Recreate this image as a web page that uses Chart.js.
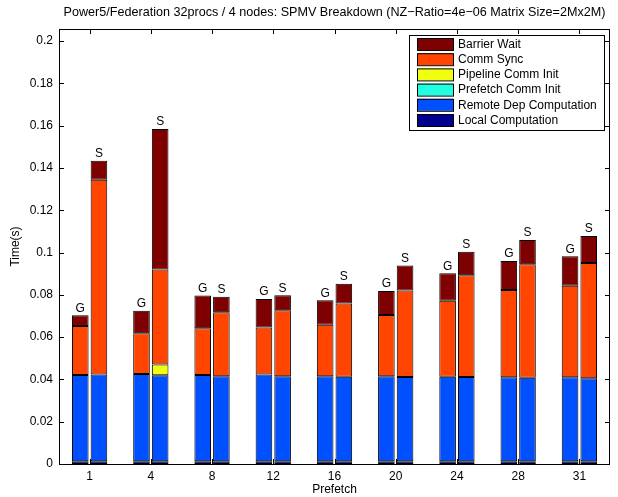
<!DOCTYPE html>
<html>
<head>
<meta charset="utf-8">
<script src="https://cdn.jsdelivr.net/npm/chart.js@4"></script>
<style>
  html, body { margin: 0; padding: 0; background: #fff; }
  #wrap { width: 618px; height: 497px; }
</style>
</head>
<body>
<div id="wrap"><canvas id="spmv-chart" width="618" height="497"></canvas></div>
<script>
const titleText = "Power5/Federation 32procs / 4 nodes: SPMV Breakdown (NZ\u2212Ratio=4e\u221206 Matrix Size=2Mx2M)";
const prefetch = ["1", "4", "8", "12", "16", "20", "24", "28", "31"];
const yTicksMax = 0.2057;

// G bars (left of each pair)
const localG    = [0.0013, 0.0013, 0.0013, 0.0013, 0.0013, 0.0013, 0.0013, 0.0013, 0.0013];
const remoteG   = [0.0408, 0.0412, 0.0408, 0.0410, 0.0402, 0.0402, 0.0399, 0.0397, 0.0397];
const prefInitG = [0, 0, 0, 0, 0, 0, 0, 0, 0];
const pipeInitG = [0, 0, 0, 0, 0, 0, 0, 0, 0];
const commSyncG = [0.0231, 0.0193, 0.0221, 0.0222, 0.0244, 0.0289, 0.0360, 0.0413, 0.0433];
const barrierG  = [0.0051, 0.0107, 0.0155, 0.0135, 0.0115, 0.0114, 0.0130, 0.0137, 0.0139];

// S bars (right of each pair)
const localS    = [0.0013, 0.0013, 0.0013, 0.0013, 0.0013, 0.0013, 0.0013, 0.0013, 0.0013];
const remoteS   = [0.0410, 0.0407, 0.0402, 0.0402, 0.0400, 0.0398, 0.0398, 0.0395, 0.0393];
const prefInitS = [0, 0, 0, 0, 0, 0, 0, 0, 0];
const pipeInitS = [0, 0.0050, 0, 0, 0, 0, 0, 0, 0];
const commSyncS = [0.0921, 0.0450, 0.0302, 0.0312, 0.0346, 0.0410, 0.0481, 0.0536, 0.0544];
const barrierS  = [0.0090, 0.0664, 0.0074, 0.0071, 0.0093, 0.0118, 0.0112, 0.0115, 0.0128];

const parts = [
    { label: "Local Computation", color: "#00008f", g: localG, s: localS },
    { label: "Remote Dep Computation", color: "#0050ff", g: remoteG, s: remoteS },
    { label: "Prefetch Comm Init", color: "#20ffe0", g: prefInitG, s: prefInitS },
    { label: "Pipeline Comm Init", color: "#f0ff10", g: pipeInitG, s: pipeInitS },
    { label: "Comm Sync", color: "#ff4500", g: commSyncG, s: commSyncS },
    { label: "Barrier Wait", color: "#7f0000", g: barrierG, s: barrierS }
];

const FONT = "'Liberation Sans', Arial, Helvetica, sans-serif";

const datasets = [];
parts.forEach(function (p) {
    ["G", "S"].forEach(function (st) {
        datasets.push({
            label: p.label,
            stackName: st,
            stack: st,
            data: st === "G" ? p.g : p.s,
            backgroundColor: p.color,
            borderColor: "#000",
            borderWidth: 1,
            borderSkipped: false,
            categoryPercentage: 0.61,
            barPercentage: 0.89
        });
    });
});

// frame, inward ticks, title, G/S labels and boxed legend
const decorPlugin = {
    id: "decor",
    afterDraw(chart) {
        const ctx = chart.ctx;
        const a = chart.chartArea;
        const xs = chart.scales.x, ys = chart.scales.y;
        ctx.save();

        // G / S labels above stacks
        ctx.font = "12px " + FONT;
        ctx.fillStyle = "#000";
        ctx.textAlign = "center";
        ctx.textBaseline = "bottom";
        ["G", "S"].forEach(function (st) {
            const topIdx = chart.data.datasets.findIndex(function (d) {
                return d.stackName === st && d.label === "Barrier Wait";
            });
            const meta = chart.getDatasetMeta(topIdx);
            prefetch.forEach(function (c, i) {
                let total = 0;
                chart.data.datasets.forEach(function (d) {
                    if (d.stackName === st) total += d.data[i];
                });
                ctx.fillText(st, meta.data[i].x, ys.getPixelForValue(total) - 1);
            });
        });

        // box + inward ticks
        ctx.strokeStyle = "#000";
        ctx.lineWidth = 1;
        ctx.strokeRect(Math.round(a.left) + 0.5, Math.round(a.top) + 0.5,
            Math.round(a.right - a.left) - 1, Math.round(a.bottom - a.top));
        ctx.beginPath();
        ys.ticks.forEach(function (t) {
            const y = Math.round(ys.getPixelForValue(t.value)) + 0.5;
            ctx.moveTo(a.left, y); ctx.lineTo(a.left + 5, y);
            ctx.moveTo(a.right, y); ctx.lineTo(a.right - 5, y);
        });
        xs.ticks.forEach(function (t, i) {
            const x = Math.round(xs.getPixelForTick(i)) + 0.5;
            ctx.moveTo(x, a.bottom); ctx.lineTo(x, a.bottom - 5);
            ctx.moveTo(x, a.top); ctx.lineTo(x, a.top + 5);
        });
        ctx.stroke();

        // title
        ctx.font = "12.6px " + FONT;
        ctx.textBaseline = "middle";
        ctx.fillText(titleText, (a.left + a.right) / 2, 13);

        // legend
        const items = parts.slice().reverse();
        const lx = 409, ly = 35, lw = 195, lh = 95, rowH = 15.2;
        ctx.fillStyle = "#fff";
        ctx.fillRect(lx, ly, lw, lh);
        ctx.strokeRect(lx + 0.5, ly + 0.5, lw, lh);
        ctx.font = "12px " + FONT;
        ctx.textAlign = "left";
        items.forEach(function (p, k) {
            const cy = ly + 9 + k * rowH;
            ctx.fillStyle = p.color;
            ctx.fillRect(lx + 8, cy - 6, 36, 12);
            ctx.strokeRect(lx + 8.5, cy - 5.5, 36, 12);
            ctx.fillStyle = "#000";
            ctx.fillText(p.label, lx + 49, cy + 0.5);
        });
        ctx.restore();
    }
};

const spmvChart = new Chart(document.getElementById("spmv-chart").getContext("2d"), {
    type: "bar",
    data: { labels: prefetch, datasets: datasets },
    options: {
        responsive: false,
        animation: false,
        layout: { padding: { left: 4, right: 8, top: 29, bottom: 0 } },
        plugins: {
            legend: { display: false },
            title: { display: false },
            tooltip: { enabled: false }
        },
        scales: {
            x: {
                stacked: true,
                grid: { display: false, drawTicks: false },
                border: { display: false },
                ticks: { color: "#000", font: { family: FONT, size: 12 }, padding: 5, maxRotation: 0 },
                title: { display: true, text: "Prefetch", color: "#000", font: { family: FONT, size: 12 }, padding: { top: 0, bottom: 0 } },
                afterFit(scale) { scale.height = 33; }
            },
            y: {
                stacked: true,
                min: 0,
                max: yTicksMax,
                grid: { display: false, drawTicks: false },
                border: { display: false },
                ticks: {
                    stepSize: 0.02,
                    includeBounds: false,
                    color: "#000",
                    padding: 6,
                    font: { family: FONT, size: 12 },
                    callback: function (v) { return String(parseFloat(v.toFixed(4))); }
                },
                title: { display: true, text: "Time(s)", color: "#000", font: { family: FONT, size: 12 }, padding: { top: 4, bottom: 4 } },
                afterFit(scale) { scale.width = 55; }
            }
        }
    },
    plugins: [decorPlugin]
});
</script>
</body>
</html>
